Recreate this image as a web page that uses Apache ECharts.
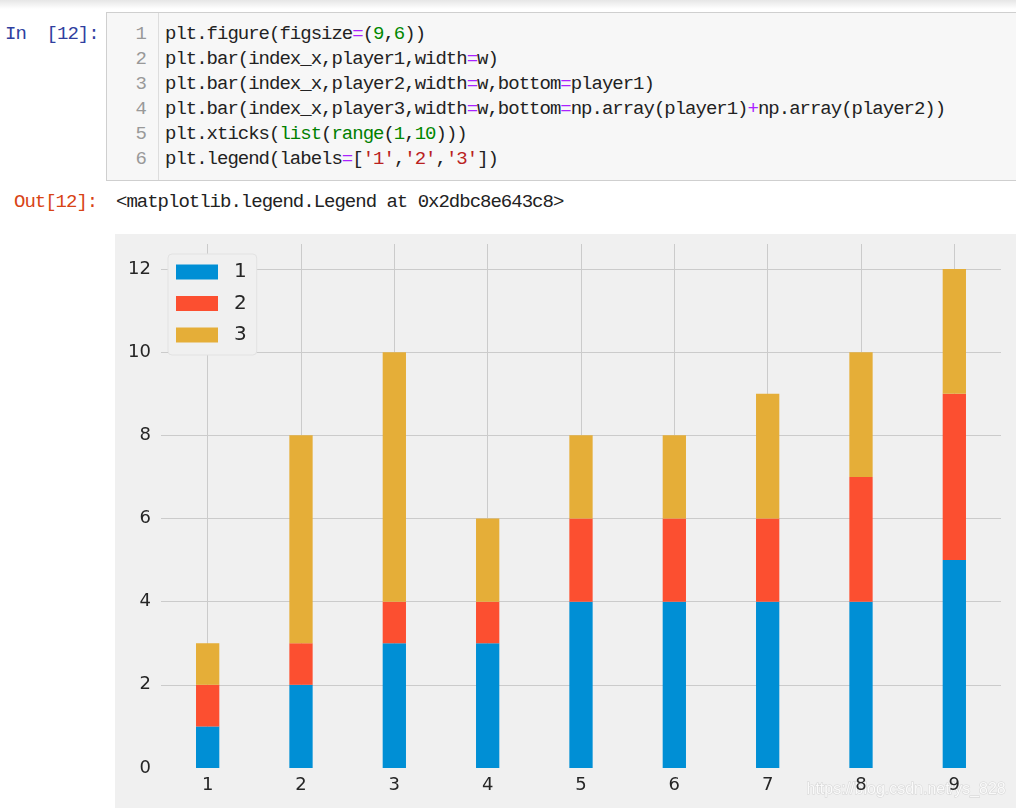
<!DOCTYPE html>
<html>
<head>
<meta charset="utf-8">
<script src="https://cdn.jsdelivr.net/npm/echarts@6/dist/echarts.min.js"></script>
<style>
  html, body { margin: 0; padding: 0; width: 1016px; height: 808px; overflow: hidden; background: #fff; }
  .mono { font-family: "Liberation Mono", "DejaVu Sans Mono", monospace; font-size: 19px; letter-spacing: -1px; white-space: pre; position: absolute; line-height: 25px; }
  #topshade { position: absolute; left: 0; top: 0; width: 1016px; height: 9px; background: linear-gradient(#e6e6e6, #ffffff); }
  #cell { position: absolute; left: 106px; top: 12px; width: 940px; height: 167px; background: #f7f7f7; border: 1px solid #cfcfcf; }
  #gutterline { position: absolute; left: 158px; top: 13px; width: 1px; height: 167px; background: #dddddd; }
  .ln { color: #999999; text-align: right; width: 32px; }
  .eq { color: #AA22FF; }
  .num { color: #008800; }
  .bi { color: #008000; }
  .str { color: #BA2121; }
  #chart { position: absolute; left: 115px; top: 234px; width: 901px; height: 574px; }
</style>
</head>
<body>
<div id="topshade"></div>
<div id="cell"></div>
<div id="gutterline"></div>
<div class="mono" style="left:5px; top:22px; color:#303F9F;">In  [12]:</div>
<div class="mono ln" style="left:114px; top:22px;">1<br>2<br>3<br>4<br>5<br>6</div>
<div class="mono" style="left:165px; top:22px; color:#222;">plt.figure(figsize<span class="eq">=</span>(<span class="num">9</span>,<span class="num">6</span>))
plt.bar(index_x,player1,width<span class="eq">=</span>w)
plt.bar(index_x,player2,width<span class="eq">=</span>w,bottom<span class="eq">=</span>player1)
plt.bar(index_x,player3,width<span class="eq">=</span>w,bottom<span class="eq">=</span>np.array(player1)<span class="eq">+</span>np.array(player2))
plt.xticks(<span class="bi">list</span>(<span class="bi">range</span>(<span class="num">1</span>,<span class="num">10</span>)))
plt.legend(labels<span class="eq">=</span>[<span class="str">'1'</span>,<span class="str">'2'</span>,<span class="str">'3'</span>])</div>
<div class="mono" style="left:14px; top:190px; color:#D84315;">Out[12]:</div>
<div class="mono" style="left:116px; top:190px; color:#222;">&lt;matplotlib.legend.Legend at 0x2dbc8e643c8&gt;</div>
<div id="chart"></div>
<script>
const categories = ['1', '2', '3', '4', '5', '6', '7', '8', '9'];
const player1 = [1, 2, 3, 3, 4, 4, 4, 4, 5];
const player2 = [1, 1, 1, 1, 2, 2, 2, 3, 4];
const player3 = [1, 5, 6, 2, 2, 2, 3, 3, 3];
const legendLabels = ['1', '2', '3'];
const colors = ['#008fd5', '#fc4f30', '#e5ae38'];

const chart = echarts.init(document.getElementById('chart'), null, { renderer: 'canvas' });
const txt = { color: '#262626', fontSize: 18, fontFamily: 'DejaVu Sans' };
const seriesData = [player1, player2, player3];

chart.setOption({
  animation: false,
  backgroundColor: '#f0f0f0',
  color: colors,
  grid: { left: 46, right: 15, top: 10, bottom: 40, containLabel: false },
  legend: {
    data: legendLabels,
    orient: 'vertical',
    left: 53, top: 20,
    itemWidth: 42, itemHeight: 15, itemGap: 11.5,
    icon: 'rect',
    backgroundColor: '#f0f0f0',
    borderColor: '#e2e2e2', borderWidth: 1, borderRadius: 4,
    padding: [8, 10, 10, 8],
    textStyle: { color: '#262626', fontSize: 20, fontFamily: 'DejaVu Sans', padding: [0, 0, 0, 11] }
  },
  xAxis: {
    type: 'category',
    data: categories,
    boundaryGap: true,
    axisLine: { show: false },
    axisTick: { show: false },
    splitLine: { show: false },
    axisLabel: Object.assign({ margin: 8 }, txt)
  },
  yAxis: {
    type: 'value',
    min: 0, max: 12.6, interval: 2,
    axisLine: { show: false },
    axisTick: { show: false },
    splitLine: { show: true, showMinLine: false, showMaxLine: false, lineStyle: { color: '#cbcbcb', width: 1 } },
    axisLabel: Object.assign({ margin: 10, showMaxLabel: false, padding: [4, 0, 0, 0],
      formatter: v => (v % 2 === 0 ? String(v) : '') }, txt)
  },
  graphic: [{
    type: 'text', left: 691, top: 547, silent: true,
    style: { text: 'https://blog.csdn.net/ys_828', fill: 'rgba(255,255,255,0.85)',
      stroke: 'rgba(160,160,160,0.35)', lineWidth: 1, font: '16px "Liberation Sans"' }
  }],
  series: legendLabels.map((name, i) => {
    const s = {
      name: name,
      type: 'bar',
      stack: 'total',
      barWidth: 23.3,
      z: 3,
      data: seriesData[i],
      itemStyle: { color: colors[i] }
    };
    if (i === 0) {
      s.markLine = {
        z: 1, silent: true, symbol: ['none', 'none'],
        label: { show: false },
        lineStyle: { color: '#cbcbcb', width: 1, type: 'solid' },
        emphasis: { disabled: true },
        data: categories.map(c => ({ xAxis: c }))
      };
    }
    return s;
  })
});
</script>
</body>
</html>
